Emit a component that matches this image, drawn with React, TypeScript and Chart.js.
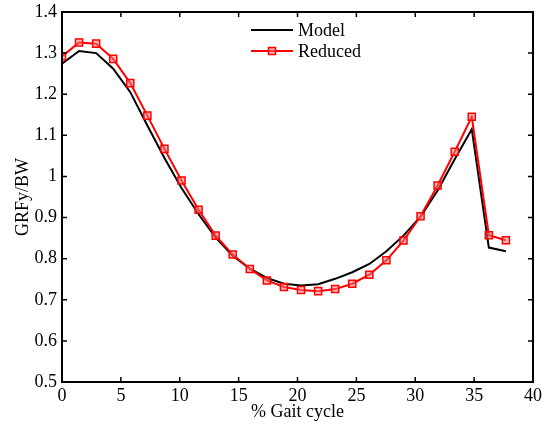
import React, { useEffect, useRef } from "react";
import { Chart, registerables } from "chart.js";

Chart.register(...registerables);

const gaitPercent = [
  0, 1.45, 2.9, 4.35, 5.8, 7.25, 8.7, 10.15, 11.6, 13.05, 14.5, 15.95, 17.4,
  18.85, 20.3, 21.75, 23.2, 24.65, 26.1, 27.55, 29.0, 30.45, 31.9, 33.35, 34.8,
  36.25, 37.7,
];
const modelValues = [
  1.274, 1.305, 1.3, 1.262, 1.205, 1.124, 1.045, 0.972, 0.908, 0.851, 0.807,
  0.776, 0.753, 0.739, 0.735, 0.738, 0.751, 0.767, 0.787, 0.818, 0.856, 0.902,
  0.966, 1.042, 1.115, 0.827, 0.818,
];
const reducedValues = [
  1.292, 1.326, 1.323, 1.286, 1.227, 1.148, 1.067, 0.99, 0.919, 0.856, 0.81,
  0.775, 0.747, 0.731, 0.724, 0.721, 0.726, 0.739, 0.761, 0.796, 0.844, 0.903,
  0.978, 1.06, 1.145, 0.857, 0.845,
];
const seriesLabels = ["Model", "Reduced"];
const xTitle = "% Gait cycle";
const yTitle = "GRFy/BW";

const FONT = "'Liberation Serif', 'Times New Roman', serif";

const frameAndLegend = {
  id: "frameAndLegend",
  afterDraw(chart: any) {
    const { ctx, chartArea } = chart;
    const xs = chart.scales.x;
    const ys = chart.scales.y;
    ctx.save();
    ctx.strokeStyle = "#000";
    ctx.lineWidth = 2;
    ctx.strokeRect(
      chartArea.left,
      chartArea.top,
      chartArea.right - chartArea.left,
      chartArea.bottom - chartArea.top
    );
    const tl = 5;
    ctx.lineWidth = 1.5;
    ctx.beginPath();
    xs.ticks.forEach((t: any) => {
      const px = xs.getPixelForValue(t.value);
      ctx.moveTo(px, chartArea.bottom);
      ctx.lineTo(px, chartArea.bottom - tl);
      ctx.moveTo(px, chartArea.top);
      ctx.lineTo(px, chartArea.top + tl);
    });
    ys.ticks.forEach((t: any) => {
      const py = ys.getPixelForValue(t.value);
      ctx.moveTo(chartArea.left, py);
      ctx.lineTo(chartArea.left + tl, py);
      ctx.moveTo(chartArea.right, py);
      ctx.lineTo(chartArea.right - tl, py);
    });
    ctx.stroke();

    // legend
    const lx0 = chartArea.left + 189;
    const lx1 = lx0 + 42;
    const rows = [chartArea.top + 18, chartArea.top + 39];
    ctx.font = `18px ${FONT}`;
    ctx.textBaseline = "middle";
    ctx.fillStyle = "#000";
    chart.data.datasets.forEach((ds: any, i: number) => {
      const y = rows[i];
      ctx.strokeStyle = ds.borderColor;
      ctx.lineWidth = 2;
      ctx.beginPath();
      ctx.moveTo(lx0, y);
      ctx.lineTo(lx1, y);
      ctx.stroke();
      if (ds.pointRadius > 0) {
        const s = 3.5;
        ctx.fillStyle = ds.pointBackgroundColor;
        ctx.fillRect((lx0 + lx1) / 2 - s, y - s, 2 * s, 2 * s);
        ctx.lineWidth = 1.5;
        ctx.strokeRect((lx0 + lx1) / 2 - s, y - s, 2 * s, 2 * s);
      }
      ctx.fillStyle = "#000";
      ctx.fillText(ds.label, lx1 + 5, y + 1);
    });
    ctx.restore();
  },
};

export default function App() {
  const ref = useRef<HTMLCanvasElement | null>(null);
  useEffect(() => {
    if (!ref.current) return;
    const chart = new Chart(ref.current, {
      type: "line",
      data: {
        datasets: [
          {
            label: seriesLabels[0],
            data: gaitPercent.map((x, i) => ({ x, y: modelValues[i] })),
            borderColor: "#000000",
            backgroundColor: "#000000",
            borderWidth: 2,
            pointRadius: 0,
            tension: 0,
            order: 1,
          },
          {
            label: seriesLabels[1],
            data: gaitPercent.map((x, i) => ({ x, y: reducedValues[i] })),
            borderColor: "#ff0000",
            backgroundColor: "#ff0000",
            borderWidth: 2,
            pointStyle: "rect",
            pointRadius: 5,
            pointBorderWidth: 1.5,
            pointBorderColor: "#ff0000",
            pointBackgroundColor: "rgba(255,120,120,0.5)",
            tension: 0,
            order: 0,
          },
        ],
      },
      options: {
        animation: false,
        responsive: false,
        layout: { padding: { left: 0, top: 12, right: 15, bottom: 0 } },
        plugins: {
          legend: { display: false },
          tooltip: { enabled: false },
        },
        scales: {
          x: {
            type: "linear",
            min: 0,
            max: 40,
            afterFit: (s: any) => {
              s.height = 47;
              s.paddingLeft = 0;
              s.paddingRight = 0;
            },
            ticks: {
              stepSize: 5,
              color: "#000",
              padding: 3,
              maxRotation: 0,
              font: { family: FONT, size: 18 },
            },
            grid: { display: false, drawTicks: false },
            border: { display: false },
            title: {
              display: true,
              text: xTitle,
              color: "#000",
              font: { family: FONT, size: 18 },
              padding: { top: 0, bottom: 6 },
            },
          },
          y: {
            type: "linear",
            min: 0.5,
            max: 1.4,
            afterFit: (s: any) => {
              s.width = 62;
              s.paddingTop = 0;
              s.paddingBottom = 0;
            },
            ticks: {
              stepSize: 0.1,
              color: "#000",
              padding: 5,
              font: { family: FONT, size: 18 },
              callback: (v: any) => {
                const n = Math.round(Number(v) * 10) / 10;
                return n === 1 ? "1" : n.toFixed(1);
              },
            },
            grid: { display: false, drawTicks: false },
            border: { display: false },
            title: {
              display: true,
              text: yTitle,
              color: "#000",
              font: { family: FONT, size: 18 },
              padding: { top: 12, bottom: 0 },
            },
          },
        },
      },
      plugins: [frameAndLegend],
    });
    return () => chart.destroy();
  }, []);
  return (
    <div style={{ position: "absolute", left: 0, top: 0, width: 548, height: 429, background: "#fff" }}>
      <canvas ref={ref} width={548} height={429} style={{ display: "block" }} />
    </div>
  );
}
